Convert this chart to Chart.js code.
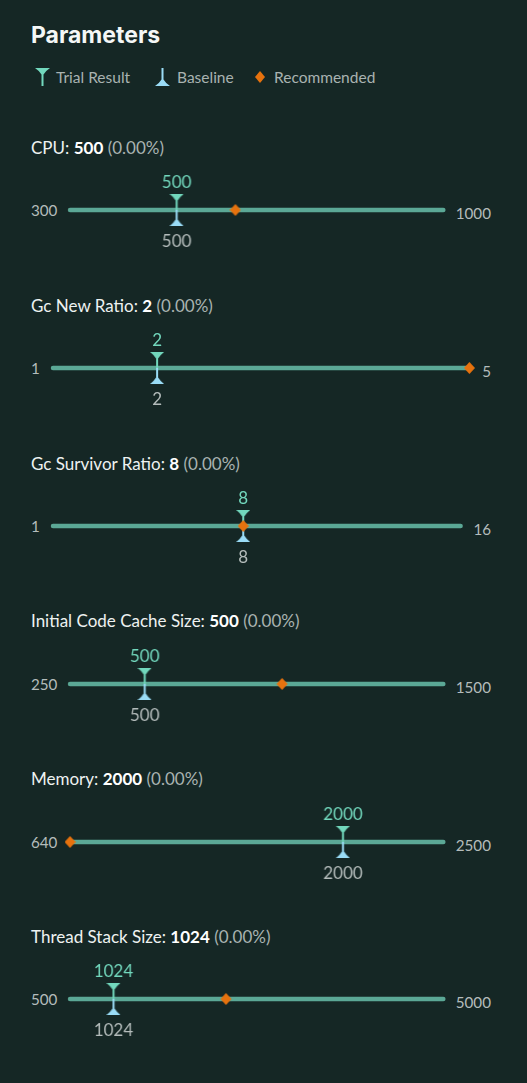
<!DOCTYPE html>
<html>
<head>
<meta charset="utf-8">
<script src="https://cdn.jsdelivr.net/npm/chart.js@4"></script>
<style>
  html,body{margin:0;padding:0;background:#152725;width:527px;height:1083px;overflow:hidden;}
  body{position:relative;font-family:Lato,"Noto Sans",sans-serif;}
  #title{position:absolute;left:31px;top:21px;font-family:Inter,"Open Sans",sans-serif;font-weight:700;font-size:23px;line-height:28px;color:#f4f7f6;}
  #legend{position:absolute;left:0;top:67px;width:527px;height:20px;font-size:15.5px;line-height:20px;color:#a9b3b1;}
  #legend > *{position:absolute;top:0;}
  .ptitle{position:absolute;left:31px;font-size:17px;line-height:20px;color:#eef2f1;white-space:nowrap;}
  .ptitle b{font-weight:700;color:#ffffff;}
  .ptitle .pct{color:#a9b3b1;}
  .row{position:absolute;left:31px;width:460px;height:96px;display:flex;align-items:center;}
  .row .lab{font-size:15.2px;color:#b4bcbb;white-space:nowrap;}
  .row .lab.r{position:relative;top:3px;}
  .row .cw{flex:1;height:96px;position:relative;margin:0 5px 0 5px;}
</style>
</head>
<body>
<div id="title">Parameters</div>
<div id="legend">
  <svg style="left:35px;top:1px" width="15" height="18" viewBox="0 0 15 18"><path d="M0,0 L15,0 Q10.5,3 8.5,6.5 L8.5,18 L6.5,18 L6.5,6.5 Q4.5,3 0,0 Z" fill="#72d8bd"/></svg>
  <span style="left:56px">Trial Result</span>
  <svg style="left:155px;top:1px" width="15" height="18" viewBox="0 0 15 18"><path d="M0,18 L15,18 Q10.5,15 8.5,11.5 L8.5,0 L6.5,0 L6.5,11.5 Q4.5,15 0,18 Z" fill="#9adcf6"/></svg>
  <span style="left:177px">Baseline</span>
  <svg style="left:254px;top:3px" width="12" height="14" viewBox="0 0 12 14"><path d="M6,1 L11,7 L6,13 L1,7 Z" fill="#e6720e"/></svg>
  <span style="left:274px">Recommended</span>
</div>
<script>
// ---- data ----
const parameterNames = ['CPU', 'Gc New Ratio', 'Gc Survivor Ratio', 'Initial Code Cache Size', 'Memory', 'Thread Stack Size'];
const rangeMin = [300, 1, 1, 250, 640, 500];
const rangeMax = [1000, 5, 16, 1500, 2500, 5000];
const trialValues = [500, 2, 8, 500, 2000, 1024];
const baselineValues = [500, 2, 8, 500, 2000, 1024];
const recommendedValues = [610, 5, 8, 960, 640, 2380];
const changePercent = [0, 0, 0, 0, 0, 0];

// ---- styling ----
const COL_TRACK = '#5ba896';
const COL_TRIAL = '#72d8bd';
const COL_BASE = '#9adcf6';
const COL_REC = '#e6720e';
const COL_BASE_TEXT = '#b4bcbb';

function makeImg(w, h, draw) {
  const c = document.createElement('canvas');
  c.width = w; c.height = h;
  const g = c.getContext('2d');
  draw(g);
  return c;
}
// trial marker: funnel at top, stem down to centre
const trialImg = makeImg(14, 32, g => {
  g.fillStyle = COL_TRIAL;
  g.beginPath();
  g.moveTo(0, 0); g.lineTo(14, 0);
  g.quadraticCurveTo(10.2, 3, 8, 6.5);
  g.lineTo(8, 16); g.lineTo(6, 16); g.lineTo(6, 6.5);
  g.quadraticCurveTo(3.8, 3, 0, 0);
  g.closePath(); g.fill();
});
const baseImg = makeImg(14, 32, g => {
  g.fillStyle = COL_BASE;
  g.beginPath();
  g.moveTo(0, 32); g.lineTo(14, 32);
  g.quadraticCurveTo(10.2, 29, 8, 25.5);
  g.lineTo(8, 16); g.lineTo(6, 16); g.lineTo(6, 25.5);
  g.quadraticCurveTo(3.8, 29, 0, 32);
  g.closePath(); g.fill();
});
const recImg = makeImg(11, 12, g => {
  g.fillStyle = COL_REC;
  g.beginPath();
  g.moveTo(5.5, 0); g.lineTo(11, 6); g.lineTo(5.5, 12); g.lineTo(0, 6);
  g.closePath(); g.fill();
});

const valueLabels = {
  id: 'valueLabels',
  afterDatasetsDraw(chart, args, opts) {
    const ctx = chart.ctx;
    const xs = chart.scales.x, ys = chart.scales.y;
    const yc = ys.getPixelForValue(0.5);
    ctx.save();
    ctx.font = '17px Lato, "Noto Sans", sans-serif';
    ctx.textAlign = 'center';
    ctx.textBaseline = 'middle';
    ctx.fillStyle = COL_TRIAL;
    ctx.fillText(String(opts.trial), xs.getPixelForValue(opts.trial), yc - 27);
    ctx.fillStyle = COL_BASE_TEXT;
    ctx.fillText(String(opts.baseline), xs.getPixelForValue(opts.baseline), yc + 32);
    ctx.restore();
  }
};

const PITCH = 157.8;
parameterNames.forEach((name, i) => {
  const titleY = 148 + PITCH * i;
  const trackY = 210.3 + PITCH * i;
  const t = document.createElement('div');
  t.className = 'ptitle';
  t.style.top = (titleY - 10) + 'px';
  t.innerHTML = name + ': <b>' + trialValues[i] + '</b> <span class="pct">(' + changePercent[i].toFixed(2) + '%)</span>';
  document.body.appendChild(t);

  const row = document.createElement('div');
  row.className = 'row';
  row.style.top = (trackY - 48) + 'px';
  const l = document.createElement('span'); l.className = 'lab'; l.textContent = rangeMin[i];
  const cw = document.createElement('div'); cw.className = 'cw';
  const cv = document.createElement('canvas'); cw.appendChild(cv);
  const r = document.createElement('span'); r.className = 'lab r'; r.textContent = rangeMax[i];
  row.appendChild(l); row.appendChild(cw); row.appendChild(r);
  document.body.appendChild(row);

  new Chart(cv, {
    type: 'scatter',
    data: {
      datasets: [
        { data: [{x: recommendedValues[i], y: 0.5}], pointStyle: recImg, pointRadius: 6, order: 0, clip: false },
        { data: [{x: trialValues[i], y: 0.5}], pointStyle: trialImg, pointRadius: 7, order: 1, clip: false },
        { data: [{x: baselineValues[i], y: 0.5}], pointStyle: baseImg, pointRadius: 7, order: 2, clip: false },
        { data: [{x: rangeMin[i], y: 0.5}, {x: rangeMax[i], y: 0.5}], showLine: true, borderColor: COL_TRACK,
          borderWidth: 4.5, borderCapStyle: 'round', pointRadius: 0, order: 3, clip: false }
      ]
    },
    options: {
      responsive: true,
      maintainAspectRatio: false,
      animation: false,
      events: [],
      layout: { padding: { left: 8, right: 8, top: 0, bottom: 0 } },
      scales: {
        x: { type: 'linear', min: rangeMin[i], max: rangeMax[i], display: false },
        y: { type: 'linear', min: 0, max: 1, display: false }
      },
      plugins: {
        legend: { display: false },
        tooltip: { enabled: false },
        valueLabels: { trial: trialValues[i], baseline: baselineValues[i] }
      }
    },
    plugins: [valueLabels]
  });
});
</script>
</body>
</html>
